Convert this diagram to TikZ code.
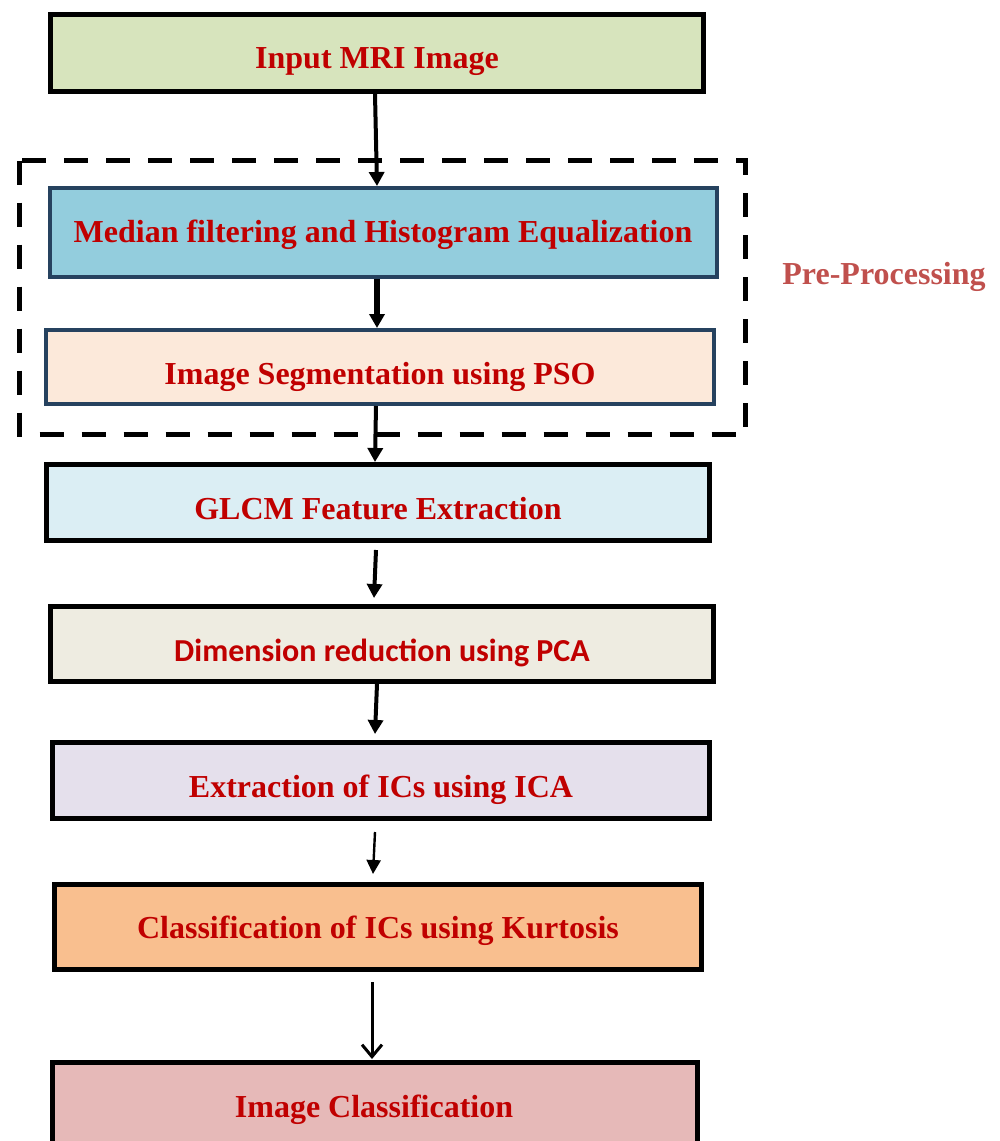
\documentclass[tikz,border=0pt]{standalone}
\usepackage{fontspec}
\setmainfont{Liberation Serif}
\newfontfamily\calib{Carlito}
\usetikzlibrary{calc,arrows.meta}
\definecolor{txtred}{HTML}{C00000}
\definecolor{ppred}{HTML}{C0504D}
\definecolor{navy}{HTML}{26425F}
\definecolor{fA}{HTML}{D7E4BD}
\definecolor{fB}{HTML}{93CDDD}
\definecolor{fC}{HTML}{FCE9DA}
\definecolor{fD}{HTML}{DBEEF4}
\definecolor{fE}{HTML}{EEECE1}
\definecolor{fF}{HTML}{E5E0EC}
\definecolor{fG}{HTML}{F9BF8F}
\definecolor{fH}{HTML}{E6B9B8}
\tikzset{
  box/.style={draw=black, line width=2.5pt, rectangle, inner sep=0pt},
  nbox/.style={box, draw=navy, line width=2pt},
  lbl/.style={text=txtred, inner sep=0pt, text height=10.6pt, text depth=0pt,
    font=\fontsize{16}{19}\selectfont\bfseries},
  arr/.style={line width=2pt, -{Triangle[length=7pt,width=7.5pt]}},
  arrthin/.style={line width=1.2pt, -{Triangle[length=7pt,width=7pt]}},
  arropen/.style={line width=1.5pt, -{Straight Barb[length=6pt,width=10pt,line width=1.5pt]}}
}
\begin{document}
\begin{tikzpicture}[x=0.5pt,y=-0.5pt]
\useasboundingbox (0,0) rectangle (1000,1141);
\clip (0,0) rectangle (1000,1141);
\fill[white] (0,0) rectangle (1000,1141);
% dashed pre-processing frame
\draw[line width=2.5pt, dash pattern=on 12pt off 9pt] (19.5,160.5) rectangle (745.5,434.5);
\node[lbl, text=ppred] (pp) at (884,274) {Pre-Processing};
% boxes
\node[box, fill=fA, minimum width=326.5pt, minimum height=38.5pt] (in) at (377,53) {};
\node[nbox, fill=fB, minimum width=333.5pt, minimum height=44.5pt] (med) at (383.5,232.5) {};
\node[nbox, fill=fC, minimum width=334pt, minimum height=37pt] (seg) at (380,367) {};
\node[box, fill=fD, minimum width=331.5pt, minimum height=38pt] (glcm) at (378,502.5) {};
\node[box, fill=fE, minimum width=331.5pt, minimum height=37.5pt] (dim) at (382,644) {};
\node[box, fill=fF, minimum width=328.5pt, minimum height=38pt] (ext) at (381,780.5) {};
\node[box, fill=fG, minimum width=323.5pt, minimum height=42.5pt] (cls) at (378,927) {};
\node[box, fill=fH, minimum width=322.5pt, minimum height=43.5pt] (img) at (375,1106) {};
% texts
\node[lbl] (inT) at (377,58) {Input MRI Image};
\node[lbl] (medT) at (383,232) {Median filtering and Histogram Equalization};
\node[lbl] (segT) at (380,374) {Image Segmentation using PSO};
\node[lbl] (glcmT) at (378,508.5) {GLCM Feature Extraction};
\node[lbl, text height=10.3pt, font=\calib\fontsize{16}{19}\selectfont\bfseries] (dimT) at (382,651.5) {Dimension reduction using PCA};
\node[lbl] (extT) at (381,787) {Extraction of ICs using ICA};
\node[lbl] (clsT) at (378,927.5) {Classification of ICs using Kurtosis};
\node[lbl] (imgT) at (374,1106.5) {Image Classification};
% arrows
\draw[arr] ($(in.south)+(-2,0)$) -- ($(med.north)+(-6.5,0)$);
\draw[arr, line width=3pt] ($(med.south)+(-6.5,0)$) -- ($(seg.north)+(-3,0)$);
\draw[arr] ($(seg.south)+(-4,0)$) -- ($(glcm.north)+(-3,0)$);
\draw[arr] ($(glcm.south)+(-2,7)$) -- ($(dim.north)+(-8,-6)$);
\draw[arr] ($(dim.south)+(-5,0)$) -- ($(ext.north)+(-6,-6)$);
\draw[arrthin] ($(ext.south)+(-6,11)$) -- ($(cls.north)+(-5,-8)$);
\draw[arropen] ($(cls.south)+(-6,10)$) -- ($(img.north)+(-3,-1)$);
\end{tikzpicture}
\end{document}
